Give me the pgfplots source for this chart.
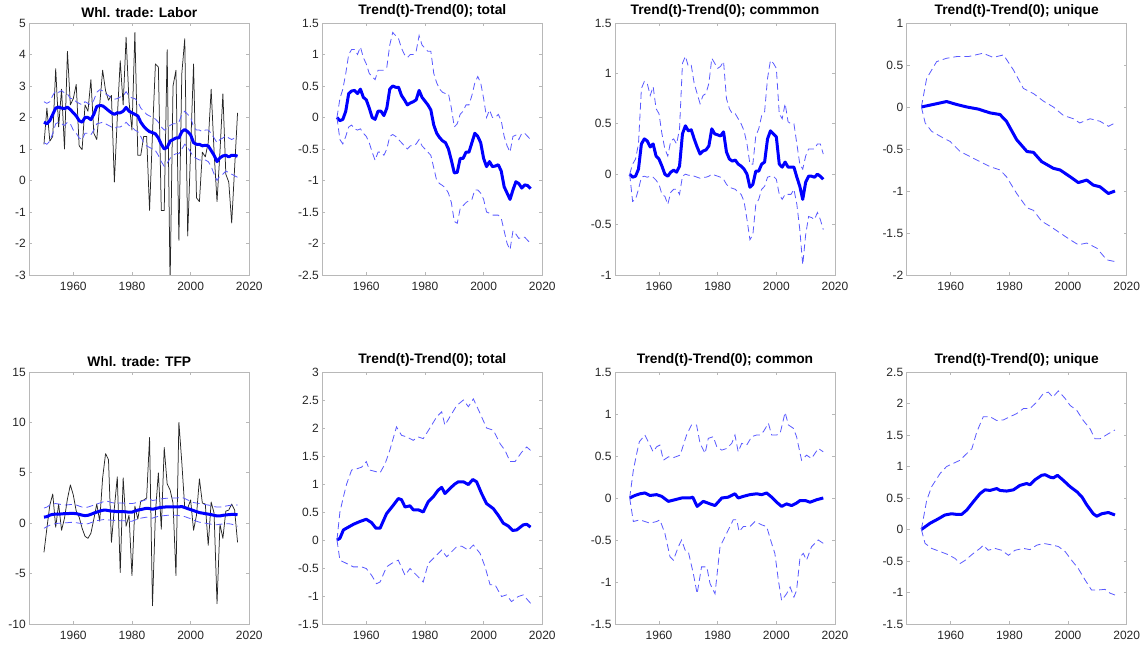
\documentclass[border=0pt]{standalone}
\usepackage{fontspec}
\setmainfont{Liberation Sans}
\usepackage{pgfplots}
\usepackage{pgfplotstable}
\pgfplotsset{compat=1.18}
\definecolor{dblue}{rgb}{0.35,0.35,1}
\definecolor{axgray}{rgb}{0.72,0.72,0.72}
\definecolor{labgray}{rgb}{0.15,0.15,0.15}
\pgfplotsset{
  panel/.style={
    scale only axis, width=220pt, height=252pt,
    anchor=south west,
    xmin=1945, xmax=2020,
    xtick={1960,1980,2000,2020}, xticklabels={1960,1980,2000,2020},
    axis line style={axgray, line width=0.6pt},
    tick style={axgray, line width=0.6pt},
    major tick length=3pt,
    tick align=inside,
    xtick pos=both, ytick pos=both,
    ticklabel style={font=\fontsize{12}{13}\selectfont, text=labgray},
    xticklabel style={yshift=-4pt},
    title style={font=\bfseries\fontsize{13.8}{15}\selectfont, text=black, yshift=-4pt},
    clip=true,
  },
  trend/.style={blue, line width=3pt, line join=round},
  band/.style={dblue, line width=0.8pt, dash pattern=on 7pt off 4pt},
  raw/.style={black!85, line width=0.75pt, line join=round},
}
\pgfplotstableread{
yr blk mid up lo
1950 1.15 1.85 2.50 1.20
1951 2.30 1.80 2.45 1.15
1952 1.25 1.90 2.50 1.25
1953 1.40 2.10 2.70 1.50
1954 3.55 2.30 2.85 1.80
1955 1.70 2.33 2.80 1.85
1956 2.90 2.30 2.85 1.80
1957 1.00 2.28 2.78 1.75
1958 4.10 2.33 2.75 1.85
1959 2.40 2.25 2.60 1.80
1960 2.60 2.15 2.60 1.60
1961 3.05 2.05 2.50 1.50
1962 1.10 1.90 2.45 1.35
1963 0.98 1.85 2.40 1.30
1964 2.40 2.00 2.50 1.50
1965 2.20 2.00 2.45 1.50
1966 3.20 1.93 2.40 1.45
1967 1.50 2.10 2.55 1.60
1968 1.30 2.35 2.80 1.80
1969 2.40 2.38 2.88 1.82
1970 3.50 2.37 2.85 1.85
1971 2.85 2.30 2.75 1.80
1972 2.55 2.22 2.70 1.75
1973 2.70 2.15 2.60 1.70
1974 -0.05 2.10 2.58 1.65
1975 2.00 2.15 2.60 1.70
1976 3.80 2.15 2.65 1.70
1977 2.40 2.20 2.68 1.75
1978 4.55 2.32 2.82 1.85
1979 2.50 2.20 2.68 1.75
1980 1.60 2.15 2.62 1.70
1981 4.70 2.10 2.60 1.60
1982 0.80 2.05 2.50 1.55
1983 0.80 1.85 2.30 1.40
1984 1.40 1.72 2.20 1.20
1985 1.40 1.62 2.10 1.10
1986 -0.95 1.55 2.05 1.05
1987 1.50 1.52 2.00 1.00
1988 3.70 1.48 1.95 0.95
1989 3.60 1.35 1.85 0.80
1990 -0.95 1.15 1.70 0.60
1991 -0.95 1.00 1.60 0.45
1992 4.15 1.05 1.65 0.55
1993 -3.30 1.25 1.75 0.70
1994 3.00 1.30 1.80 0.80
1995 3.50 1.35 1.80 0.85
1996 -1.90 1.35 1.85 0.85
1997 3.40 1.55 2.10 1.00
1998 4.50 1.62 2.20 1.15
1999 -1.76 1.55 2.10 1.05
2000 1.00 1.45 2.00 0.90
2001 3.70 1.20 1.70 0.75
2002 -0.55 1.15 1.60 0.70
2003 -0.67 1.15 1.60 0.65
2004 0.90 1.10 1.55 0.65
2005 0.75 1.12 1.60 0.65
2006 1.20 1.10 1.60 0.60
2007 2.90 0.95 1.50 0.45
2008 0.90 0.80 1.35 0.20
2009 -0.67 0.60 1.20 0.00
2010 0.90 0.72 1.30 0.15
2011 2.75 0.78 1.35 0.20
2012 0.20 0.80 1.42 0.30
2013 -0.05 0.75 1.35 0.25
2014 -1.35 0.80 1.30 0.20
2015 0.40 0.80 1.35 0.15
2016 2.15 0.77 1.40 0.10
}\labA
\pgfplotstableread{
yr mid up lo
1950 0.00 0.00 0.00
1951 -0.05 0.30 -0.35
1952 -0.03 0.45 -0.42
1953 0.10 0.70 -0.30
1954 0.38 1.00 -0.15
1955 0.42 1.08 -0.12
1956 0.43 1.08 -0.18
1957 0.38 1.00 -0.20
1958 0.45 1.12 -0.18
1959 0.32 0.95 -0.25
1960 0.28 0.85 -0.30
1961 0.15 0.70 -0.40
1962 0.00 0.65 -0.55
1963 -0.03 0.60 -0.68
1964 0.10 0.75 -0.55
1965 0.10 0.75 -0.55
1966 0.03 0.75 -0.60
1967 0.15 0.80 -0.50
1968 0.45 1.15 -0.30
1969 0.50 1.35 -0.27
1970 0.48 1.30 -0.30
1971 0.48 1.25 -0.35
1972 0.35 1.10 -0.40
1973 0.28 1.00 -0.45
1974 0.20 0.95 -0.50
1975 0.23 1.00 -0.45
1976 0.25 1.00 -0.45
1977 0.28 1.05 -0.42
1978 0.43 1.30 -0.35
1979 0.32 1.15 -0.45
1980 0.26 1.10 -0.50
1981 0.20 1.05 -0.55
1982 0.12 1.05 -0.60
1983 -0.12 0.70 -0.80
1984 -0.25 0.55 -1.00
1985 -0.32 0.45 -1.05
1986 -0.37 0.40 -1.08
1987 -0.40 0.38 -1.12
1988 -0.50 0.38 -1.20
1989 -0.68 0.15 -1.35
1990 -0.88 -0.15 -1.65
1991 -0.87 -0.10 -1.68
1992 -0.65 0.05 -1.45
1993 -0.65 0.10 -1.40
1994 -0.55 0.20 -1.35
1995 -0.55 0.20 -1.32
1996 -0.40 0.35 -1.30
1997 -0.25 0.55 -1.15
1998 -0.30 0.65 -1.15
1999 -0.40 0.55 -1.20
2000 -0.65 0.30 -1.30
2001 -0.78 0.00 -1.50
2002 -0.70 0.12 -1.52
2003 -0.78 0.00 -1.55
2004 -0.77 0.00 -1.55
2005 -0.75 0.05 -1.55
2006 -0.85 -0.05 -1.60
2007 -1.10 -0.30 -1.80
2008 -1.20 -0.45 -2.00
2009 -1.30 -0.55 -2.10
2010 -1.15 -0.30 -1.80
2011 -1.02 -0.28 -1.85
2012 -1.05 -0.35 -1.92
2013 -1.12 -0.25 -1.90
2014 -1.07 -0.25 -1.90
2015 -1.08 -0.30 -1.95
2016 -1.13 -0.35 -2.00
}\labB
\pgfplotstableread{
yr mid up lo
1950 0.00 0.00 0.00
1951 -0.03 0.10 -0.27
1952 -0.02 0.15 -0.25
1953 0.05 0.30 -0.15
1954 0.30 0.85 -0.03
1955 0.35 0.92 -0.02
1956 0.33 0.90 -0.03
1957 0.27 0.78 -0.02
1958 0.30 0.87 -0.03
1959 0.18 0.65 -0.06
1960 0.15 0.60 -0.10
1961 0.08 0.40 -0.20
1962 0.00 0.25 -0.22
1963 -0.02 0.18 -0.30
1964 0.02 0.33 -0.18
1965 0.04 0.35 -0.15
1966 0.02 0.30 -0.15
1967 0.08 0.45 -0.20
1968 0.40 1.10 -0.02
1969 0.48 1.17 0.00
1970 0.43 1.07 -0.01
1971 0.44 1.08 -0.01
1972 0.35 0.90 -0.02
1973 0.27 0.80 -0.03
1974 0.20 0.70 -0.04
1975 0.23 0.78 -0.03
1976 0.24 0.80 -0.03
1977 0.28 0.90 -0.02
1978 0.45 1.15 0.00
1979 0.40 1.10 -0.01
1980 0.39 1.05 -0.02
1981 0.38 1.07 -0.03
1982 0.42 1.12 -0.05
1983 0.22 0.75 -0.10
1984 0.15 0.65 -0.13
1985 0.13 0.60 -0.14
1986 0.14 0.60 -0.15
1987 0.10 0.55 -0.18
1988 0.08 0.50 -0.20
1989 0.05 0.43 -0.27
1990 0.00 0.30 -0.45
1991 -0.13 0.10 -0.65
1992 -0.10 0.10 -0.60
1993 0.03 0.38 -0.30
1994 0.03 0.45 -0.25
1995 0.10 0.58 -0.15
1996 0.12 0.62 -0.12
1997 0.35 0.95 -0.03
1998 0.43 1.13 -0.02
1999 0.40 1.10 -0.02
2000 0.37 1.05 -0.05
2001 0.10 0.60 -0.20
2002 0.07 0.55 -0.25
2003 0.12 0.70 -0.20
2004 0.07 0.52 -0.20
2005 0.07 0.50 -0.20
2006 0.07 0.50 -0.15
2007 -0.03 0.30 -0.30
2008 -0.12 0.10 -0.55
2009 -0.25 0.05 -0.90
2010 -0.08 0.18 -0.60
2011 -0.02 0.25 -0.42
2012 -0.02 0.25 -0.43
2013 -0.03 0.25 -0.45
2014 0.00 0.30 -0.38
2015 -0.02 0.30 -0.45
2016 -0.05 0.20 -0.55
}\labC
\pgfplotstableread{
yr blk mid up lo
1950 -2.9 0.60 1.50 -0.50
1951 -0.5 0.65 1.60 -0.35
1952 1.8 0.80 1.80 -0.20
1953 2.9 0.88 1.90 -0.10
1954 -0.4 0.90 1.95 -0.05
1955 1.9 0.90 1.90 0.00
1956 -0.7 0.92 1.85 0.00
1957 0.5 0.95 1.80 0.05
1958 2.4 0.95 1.82 0.05
1959 3.8 0.97 1.85 0.08
1960 2.8 0.97 1.85 0.08
1961 1.2 0.95 1.80 0.05
1962 0.6 0.88 1.70 0.00
1963 -0.5 0.80 1.60 -0.05
1964 -1.3 0.75 1.55 -0.10
1965 -1.5 0.78 1.60 -0.05
1966 -1.0 0.88 1.70 0.05
1967 0.4 1.00 1.80 0.15
1968 1.9 1.10 1.90 0.25
1969 0.2 1.20 2.00 0.30
1970 4.5 1.28 2.10 0.35
1971 6.9 1.30 2.20 0.38
1972 6.3 1.25 2.15 0.32
1973 -1.9 1.20 2.05 0.30
1974 1.5 1.18 2.00 0.28
1975 4.6 1.15 2.00 0.28
1976 -4.9 1.15 2.00 0.25
1977 4.5 1.15 2.00 0.25
1978 -0.3 1.12 1.95 0.22
1979 0.8 1.10 1.95 0.20
1980 -5.2 1.10 1.95 0.20
1981 1.7 1.20 2.00 0.30
1982 0.4 1.30 2.10 0.45
1983 2.2 1.35 2.15 0.50
1984 2.3 1.42 2.25 0.55
1985 2.5 1.48 2.35 0.60
1986 8.5 1.45 2.40 0.55
1987 -8.2 1.38 2.25 0.50
1988 1.0 1.45 2.30 0.60
1989 5.0 1.52 2.38 0.68
1990 -0.6 1.57 2.42 0.72
1991 7.5 1.60 2.45 0.75
1992 3.9 1.62 2.48 0.78
1993 3.3 1.63 2.50 0.80
1994 2.0 1.62 2.50 0.80
1995 -5.2 1.62 2.50 0.78
1996 10.0 1.62 2.52 0.75
1997 6.0 1.65 2.55 0.72
1998 1.5 1.55 2.45 0.65
1999 1.5 1.45 2.30 0.55
2000 2.3 1.35 2.20 0.45
2001 -0.7 1.25 2.05 0.30
2002 0.8 1.15 2.00 0.20
2003 4.4 1.05 1.95 0.10
2004 2.0 1.00 1.90 0.05
2005 1.9 0.95 1.85 0.00
2006 -2.2 0.90 1.80 -0.05
2007 2.1 0.85 1.75 -0.10
2008 1.0 0.78 1.65 -0.15
2009 -8.0 0.72 1.60 -0.15
2010 -0.1 0.72 1.60 -0.10
2011 -1.5 0.78 1.65 -0.08
2012 1.2 0.82 1.70 -0.05
2013 1.3 0.85 1.75 -0.05
2014 1.9 0.87 1.80 -0.10
2015 1.3 0.87 1.82 -0.20
2016 -1.9 0.85 1.80 -0.30
}\tfpA
\begin{document}
\begin{tikzpicture}
\path[use as bounding box] (0,0) rectangle (1148pt,650pt);
% ---------- Row 1 ----------
\begin{axis}[panel, at={(29.3pt,375pt)}, title={Whl. trade: Labor},
  ymin=-3, ymax=5, ytick={-3,-2,-1,0,1,2,3,4,5},
  yticklabels={-3,-2,-1,0,1,2,3,4,5}]
\addplot[raw] table[x=yr,y=blk]{\labA};
\addplot[trend] table[x=yr,y=mid]{\labA};
\addplot[band] table[x=yr,y=up]{\labA};
\addplot[band] table[x=yr,y=lo]{\labA};
\end{axis}
\begin{axis}[panel, at={(322.3pt,375pt)}, title={Trend(t)-Trend(0); total},
  ymin=-2.5, ymax=1.5, ytick={-2.5,-2,-1.5,-1,-0.5,0,0.5,1,1.5},
  yticklabels={-2.5,-2,-1.5,-1,-0.5,0,0.5,1,1.5}]
\addplot[trend] table[x=yr,y=mid]{\labB};
\addplot[band] table[x=yr,y=up]{\labB};
\addplot[band] table[x=yr,y=lo]{\labB};
\end{axis}
\begin{axis}[panel, at={(615pt,375pt)}, title={Trend(t)-Trend(0); commmon},
  ymin=-1, ymax=1.5, ytick={-1,-0.5,0,0.5,1,1.5},
  yticklabels={-1,-0.5,0,0.5,1,1.5}]
\addplot[trend] table[x=yr,y=mid]{\labC};
\addplot[band] table[x=yr,y=up]{\labC};
\addplot[band] table[x=yr,y=lo]{\labC};
\end{axis}
\begin{axis}[panel, at={(906.7pt,375pt)}, title={Trend(t)-Trend(0); unique},
  ymin=-2, ymax=1, ytick={-2,-1.5,-1,-0.5,0,0.5,1},
  yticklabels={-2,-1.5,-1,-0.5,0,0.5,1}]
\addplot[trend] coordinates {(1950,0) (1954,0.03) (1958.6,0.065) (1962,0.03) (1965.5,0) (1969.4,-0.025) (1973.4,-0.07) (1976.8,-0.09) (1979,-0.17) (1982.5,-0.39) (1986,-0.53) (1988.2,-0.54) (1991,-0.65) (1995,-0.73) (1997.3,-0.75) (2000.7,-0.83) (2003.5,-0.9) (2006.4,-0.87) (2008.6,-0.93) (2010.9,-0.95) (2013.75,-1.03) (2016,-1.0)};
\addplot[band] coordinates {(1950,0) (1951.8,0.34) (1955.2,0.54) (1958.6,0.58) (1962,0.6) (1966,0.6) (1971,0.64) (1974.5,0.59) (1978,0.62) (1981.4,0.44) (1984.8,0.22) (1988.2,0.16) (1991.6,0.07) (1995,0.0) (1998.4,-0.1) (2001.8,-0.14) (2004,-0.19) (2007.5,-0.14) (2010.9,-0.17) (2013.8,-0.23) (2016,-0.19)};
\addplot[band] coordinates {(1950,0) (1951.3,-0.19) (1953.5,-0.29) (1957.5,-0.37) (1959.8,-0.41) (1963.2,-0.53) (1967.7,-0.61) (1970,-0.65) (1973.4,-0.71) (1976.8,-0.75) (1979,-0.83) (1982.5,-1.03) (1986,-1.2) (1988.2,-1.23) (1991,-1.36) (1993.9,-1.42) (1997.3,-1.5) (2000.7,-1.58) (2003.5,-1.64) (2006.4,-1.62) (2009.8,-1.68) (2013.2,-1.82) (2016,-1.84)};
\end{axis}
% ---------- Row 2 ----------
\begin{axis}[panel, at={(29.3pt,26pt)}, title={Whl. trade: TFP},
  ymin=-10, ymax=15, ytick={-10,-5,0,5,10,15},
  yticklabels={-10,-5,0,5,10,15}]
\addplot[raw] table[x=yr,y=blk]{\tfpA};
\addplot[trend] table[x=yr,y=mid]{\tfpA};
\addplot[band] table[x=yr,y=up]{\tfpA};
\addplot[band] table[x=yr,y=lo]{\tfpA};
\end{axis}
\begin{axis}[panel, at={(322.3pt,26pt)}, title={Trend(t)-Trend(0); total},
  ymin=-1.5, ymax=3, ytick={-1.5,-1,-0.5,0,0.5,1,1.5,2,2.5,3},
  yticklabels={-1.5,-1,-0.5,0,0.5,1,1.5,2,2.5,3}]
\addplot[trend] coordinates {(1950,0) (1951,0.03) (1952.2,0.18) (1953.9,0.23) (1955.6,0.28) (1957.8,0.33) (1960,0.37) (1961.8,0.31) (1963.3,0.21) (1964.7,0.21) (1966.9,0.47) (1969.2,0.62) (1970.9,0.74) (1972,0.72) (1973.2,0.59) (1974.9,0.61) (1976,0.54) (1977.7,0.54) (1979.4,0.5) (1981.1,0.68) (1982.8,0.77) (1984.5,0.89) (1985.7,0.94) (1986.8,0.83) (1988.5,0.92) (1990.2,1.0) (1991.4,1.04) (1993.1,1.04) (1994.8,0.99) (1996.3,1.08) (1997.6,1.04) (1999.3,0.83) (2001,0.65) (2003.3,0.56) (2005,0.44) (2006.7,0.3) (2008.4,0.25) (2009.9,0.17) (2011.3,0.18) (2013.5,0.27) (2014.7,0.28) (2016,0.23)};
\addplot[band] coordinates {(1950,0) (1951,0.5) (1952.2,0.77) (1953.3,1.0) (1955,1.25) (1956.7,1.27) (1958.4,1.3) (1960,1.4) (1961.1,1.25) (1963.3,1.22) (1964.7,1.2) (1966.4,1.36) (1968,1.6) (1970.3,2.02) (1972,1.87) (1973.8,1.84) (1976,1.78) (1977.7,1.84) (1979.4,1.81) (1981.7,2.0) (1984,2.2) (1985.7,2.29) (1986.8,2.05) (1988.5,2.2) (1990.8,2.4) (1993.1,2.5) (1994.8,2.38) (1996.5,2.52) (1998.8,2.26) (2001,2.0) (2003.3,1.96) (2005.6,1.72) (2007.3,1.6) (2009,1.4) (2010.7,1.4) (2013,1.57) (2014.7,1.66) (2016,1.6)};
\addplot[band] coordinates {(1950,0) (1951,-0.36) (1953.3,-0.42) (1955.6,-0.48) (1958.4,-0.48) (1960,-0.51) (1961.8,-0.63) (1963.5,-0.78) (1964.7,-0.75) (1966.9,-0.48) (1968.6,-0.42) (1970.9,-0.36) (1973.2,-0.63) (1974.9,-0.51) (1976.6,-0.6) (1979.4,-0.75) (1981.1,-0.42) (1984,-0.27) (1985.7,-0.18) (1987.4,-0.3) (1990.8,-0.12) (1992.5,-0.11) (1994.8,-0.18) (1996.5,-0.09) (1998.8,-0.24) (2000.5,-0.48) (2002.2,-0.8) (2003.9,-0.8) (2006.1,-1.01) (2007.8,-0.98) (2009.5,-1.1) (2011.8,-1.01) (2013.5,-0.98) (2016,-1.13)};
\end{axis}
\begin{axis}[panel, at={(615pt,26pt)}, title={Trend(t)-Trend(0); common},
  ymin=-1.5, ymax=1.5, ytick={-1.5,-1,-0.5,0,0.5,1,1.5},
  yticklabels={-1.5,-1,-0.5,0,0.5,1,1.5}]
\addplot[trend] coordinates {(1950,0) (1951.8,0.03) (1953.5,0.05) (1955.2,0.06) (1956.9,0.03) (1959.2,0.04) (1960.9,0.02) (1963.2,-0.04) (1965.5,-0.02) (1967.7,0) (1970.6,0) (1971.5,0.01) (1973,-0.1) (1975.1,-0.04) (1977.4,-0.07) (1979.1,-0.09) (1981.4,0) (1983.6,0.01) (1985.9,0.05) (1987,0.0) (1988.8,0.02) (1991,0.04) (1993.3,0.05) (1995,0.04) (1996.7,0.06) (1998.4,0.01) (2000.1,-0.05) (2001.8,-0.1) (2003.5,-0.07) (2005.2,-0.09) (2006.9,-0.06) (2008.1,-0.03) (2009.8,-0.03) (2011.5,-0.05) (2013.8,-0.02) (2016,0)};
\addplot[band] coordinates {(1950,0) (1951.25,0.33) (1952.4,0.53) (1953.3,0.67) (1955.2,0.75) (1956.9,0.63) (1958,0.55) (1959.2,0.61) (1960.3,0.63) (1961.5,0.45) (1963.2,0.49) (1964.9,0.48) (1967.2,0.51) (1969.4,0.75) (1971.1,0.87) (1972.8,0.87) (1974,0.65) (1975.7,0.53) (1976.8,0.71) (1978.5,0.73) (1979.7,0.61) (1981.4,0.57) (1983.1,0.59) (1984.8,0.65) (1985.9,0.75) (1987,0.55) (1988.2,0.65) (1989.9,0.63) (1991.6,0.73) (1993.3,0.75) (1994.4,0.75) (1995.6,0.79) (1997.3,0.89) (1998.4,0.75) (2000.1,0.75) (2001.3,0.77) (2003,1.02) (2004.1,0.87) (2005.8,0.83) (2006.9,0.73) (2008.6,0.45) (2010.3,0.51) (2012,0.47) (2014.3,0.59) (2016,0.55)};
\addplot[band] coordinates {(1950,0) (1951.25,-0.28) (1953.5,-0.26) (1956.9,-0.3) (1959.2,-0.28) (1960.3,-0.26) (1962,-0.42) (1963.75,-0.7) (1964.9,-0.74) (1966.6,-0.58) (1967.7,-0.5) (1968.9,-0.62) (1970,-0.64) (1971.7,-0.9) (1973,-1.14) (1974.5,-0.82) (1976.3,-0.82) (1977.4,-1.02) (1979.1,-1.14) (1980.8,-0.58) (1982.5,-0.46) (1984.2,-0.34) (1985.3,-0.26) (1986.5,-0.26) (1987.3,-0.4) (1988.75,-0.34) (1991,-0.34) (1992.7,-0.28) (1995,-0.32) (1996.7,-0.34) (1998.4,-0.54) (1999.5,-0.66) (2000.7,-0.98) (2001.8,-1.22) (2003.5,-1.14) (2004.7,-1.06) (2006,-1.18) (2006.9,-1.1) (2008.1,-0.7) (2009.2,-0.66) (2010.3,-0.74) (2012,-0.58) (2014.3,-0.5) (2016,-0.54)};
\end{axis}
\begin{axis}[panel, at={(906.7pt,26pt)}, title={Trend(t)-Trend(0); unique},
  ymin=-1.5, ymax=2.5, ytick={-1.5,-1,-0.5,0,0.5,1,1.5,2,2.5},
  yticklabels={-1.5,-1,-0.5,0,0.5,1,1.5,2,2.5}]
\addplot[trend] coordinates {(1950,0) (1953,0.1) (1955.8,0.17) (1958,0.23) (1960.3,0.25) (1962,0.24) (1963.75,0.24) (1965.5,0.31) (1967.7,0.44) (1970,0.57) (1971.7,0.63) (1973.4,0.62) (1975.7,0.65) (1976.8,0.62) (1979.1,0.61) (1981.4,0.63) (1983.6,0.7) (1985.9,0.73) (1987,0.71) (1988.75,0.79) (1991,0.86) (1992.2,0.87) (1993.9,0.83) (1995,0.82) (1996.4,0.86) (1998.4,0.78) (2000.7,0.68) (2003,0.6) (2004.7,0.52) (2006.4,0.39) (2008.6,0.25) (2009.8,0.21) (2011.5,0.25) (2013.75,0.27) (2016,0.23)};
\addplot[band] coordinates {(1950,0) (1951.8,0.46) (1953.5,0.68) (1956.4,0.89) (1958.6,1.0) (1960.9,1.05) (1963.2,1.1) (1964.9,1.18) (1967.2,1.28) (1968.9,1.55) (1971.1,1.79) (1973.4,1.79) (1975.7,1.73) (1978,1.74) (1980.2,1.79) (1982.5,1.84) (1984.8,1.92) (1987,1.92) (1989.3,2.02) (1991.6,2.16) (1993.3,2.18) (1994.8,2.1) (1996.7,2.2) (1999,2.08) (2000.7,1.97) (2003,1.89) (2005.2,1.73) (2007.5,1.6) (2009.2,1.44) (2010.9,1.44) (2013.75,1.52) (2016,1.58)};
\addplot[band] coordinates {(1950,0) (1951.25,-0.22) (1953.5,-0.3) (1956.4,-0.35) (1959.2,-0.4) (1961.5,-0.46) (1963.2,-0.54) (1964.9,-0.49) (1967.7,-0.38) (1970,-0.3) (1971.1,-0.25) (1972.8,-0.33) (1975.1,-0.3) (1977.4,-0.33) (1979.7,-0.41) (1981.9,-0.33) (1984.8,-0.3) (1987,-0.32) (1989.3,-0.25) (1991.6,-0.22) (1993.9,-0.24) (1996.7,-0.27) (1999,-0.35) (2001.25,-0.49) (2003.5,-0.62) (2005.8,-0.8) (2008,-0.96) (2010.3,-0.96) (2012.6,-0.95) (2014.3,-1.01) (2016,-1.04)};
\end{axis}
\end{tikzpicture}
\end{document}
